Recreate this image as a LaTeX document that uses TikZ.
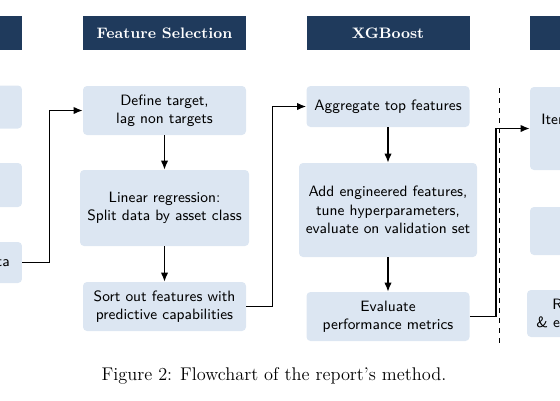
\documentclass[tikz,border=0pt]{standalone}
\usetikzlibrary{shapes,arrows,arrows.meta,calc,positioning}
\usepackage{tikz}

\definecolor{navy}{RGB}{31,58,92}
\definecolor{boxblue}{RGB}{220,230,242}

\begin{document}
\begin{tikzpicture}[every text node part/.style={align=center},text=black, x=0.6pt, y=-0.6pt,
	hdr/.style={fill=navy, text=white, font=\fontsize{9.1}{11}\selectfont\bfseries, minimum width=97.8pt, minimum height=20.4pt, inner sep=0pt},
	proc/.style={fill=boxblue, rounded corners=2.4pt, font=\sffamily\small, inner sep=0pt, minimum width=97.8pt, minimum height=29.4pt},
	cut/.style={font=\sffamily\small, inner sep=0pt},
	flow/.style={-{Latex[length=5.5pt,width=4.5pt]}, black, thick}]

	\useasboundingbox (0,0) rectangle (560,400);
	\clip (0,0) rectangle (560,400);

	% headers
	\node[hdr] (hpre) at (-59.5,33) {};
	\node[hdr] (hfs) at (164.5,33) {Feature Selection};
	\node[hdr] (hxgb) at (388,33) {XGBoost};
	\node[hdr] (hnext) at (611.5,33) {};

	% previous column (cut off)
	\node[proc, minimum height=25.8pt] (pre1) at (-59.5,107) {};
	\node[proc, minimum height=26.4pt] (pre2) at (-59.5,185) {};
	\node[proc, minimum height=24.6pt] (pre3) at (-59.5,262.5) {};
	\node[cut, anchor=base east] (pre3txt) at (10,266) {data};

	% feature selection
	\node[proc] (target) at (164.5,110.5) {Define target,\\lag non targets};
	\node[proc, minimum width=101.4pt, minimum height=45.6pt] (linreg) at (164.5,208) {Linear regression:\\Split data by asset class};
	\node[proc] (sortout) at (164.5,306.5) {Sort out features with\\predictive capabilities};

	% xgboost
	\node[proc, minimum height=24.6pt] (aggr) at (388,106.5) {Aggregate top features};
	\node[proc, minimum width=106.8pt, minimum height=56.4pt] (engin) at (388,210) {Add engineered features,\\tune hyperparameters,\\evaluate on validation set};
	\node[proc] (evalm) at (388,316.5) {Evaluate\\performance metrics};

	% next column (cut off)
	\node[proc, minimum height=49.8pt] (nxt1) at (611.5,128.5) {};
	\node[proc, minimum height=28.8pt] (nxt2) at (611.5,231) {};
	\node[proc, minimum width=101.4pt, minimum height=28.2pt] (nxt3) at (611.5,313.5) {};
	\node[cut, anchor=base west] (nxt1txt) at (541,124) {Iterate};
	\node[cut, anchor=base west] (nxt3a) at (552,309) {R};
	\node[cut, anchor=base west] (nxt3b) at (536,327) {\& ev};

	% connections
	\draw[flow] (pre3.east) -- ++(27,0) |- (target.west);
	\draw[flow] (target.south) -- (linreg.north);
	\draw[flow] (linreg.south) -- (sortout.north);
	\draw[flow] (sortout.east) -- ++(26,0) |- (aggr.west);
	\draw[flow] (aggr.south) -- (engin.north);
	\draw[flow] (engin.south) -- (evalm.north);
	\draw[flow] (evalm.east) -- ++(26,0) |- (nxt1.west);

	\draw[black, dashed] (499,88) -- (499,347);

	\node[font=\fontsize{11}{13}\selectfont] (caption) at (274,376) {Figure 2: Flowchart of the report's method.};
\end{tikzpicture}
\end{document}
